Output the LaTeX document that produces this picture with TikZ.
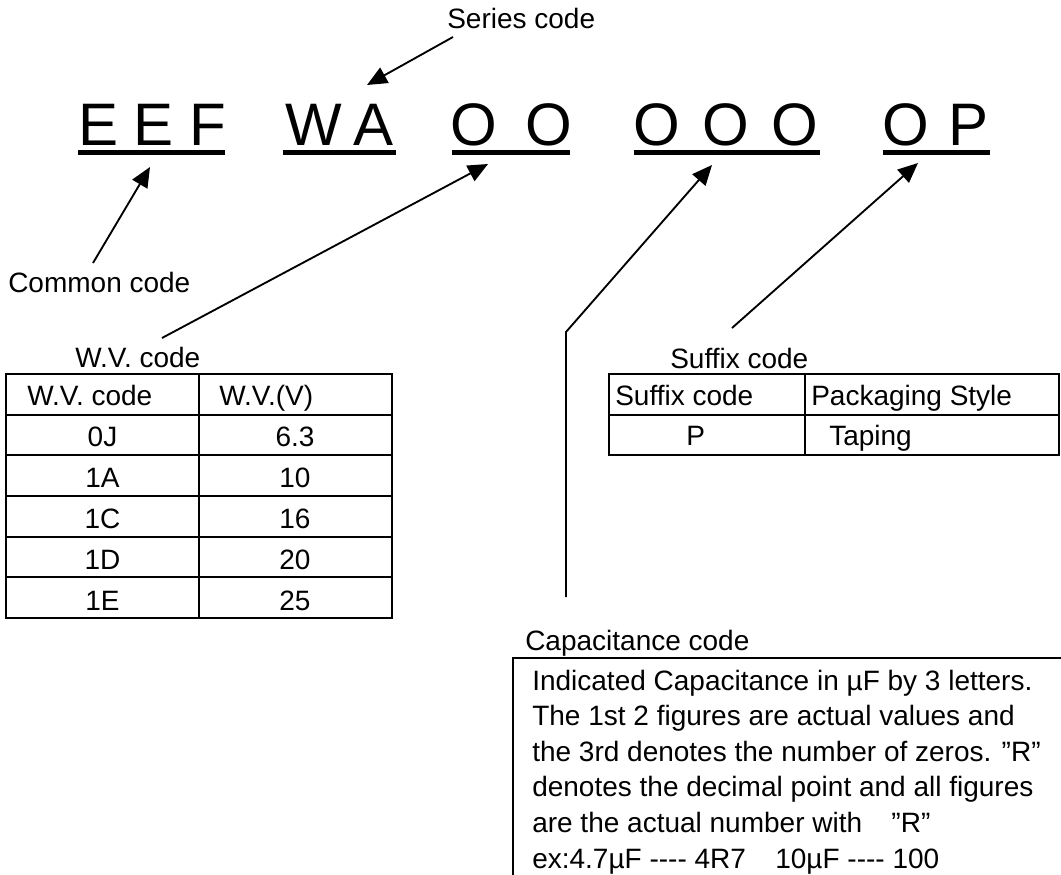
\documentclass[tikz,border=0pt]{standalone}
\usepackage{fontspec}
\setmainfont{Liberation Sans}[Ligatures=TeXOff]
\usetikzlibrary{arrows.meta}

\begin{document}
\begin{tikzpicture}
		[x=0.75pt, y=-0.75pt,
		every node/.style={inner sep=0pt, font=\fontsize{21}{25}\selectfont},
		letter/.style={anchor=base, font=\fontsize{45}{54}\selectfont},
		label/.style={anchor=base west},
		cell/.style={anchor=base},
		bar/.style={line width=3.75pt},
		frame/.style={line width=2pt},
		pointer/.style={line width=1.4pt, -{Triangle[length=15pt, width=13pt]}}]
		\useasboundingbox (0,0) rectangle (1061,875);
		
		% part number
		\foreach \ch/\x [count=\i] in {E/98.5, E/153.5, F/208, W/314, A/374, O/474, O/548.5, O/657, O/726, O/795, O/906, P/968.5}
			\node[letter] (ch\i) at (\x,145) {\ch};
		\foreach \a/\b in {78/225, 283/396, 452/570, 634/820, 883/990}
			\draw[bar] (\a,152.5) -- (\b,152.5);
		
		\coordinate (tipS) at (367,85);
		\coordinate (tipC) at (150,167);
		\coordinate (tipW) at (488,164);
		\coordinate (tipK) at (712,165);
		\coordinate (tipP) at (918,163);
		
		\node[label] (series) at (447,28) {Series code};
		\node[label] (common) at (8,292) {Common code};
		\node[label] (wv) at (75,367) {W.V. code};
		\node[label] (suffix) at (670,368) {Suffix code};
		\node[label] (cap) at (525,650) {Capacitance code};
		
		\coordinate (fromS) at (453,37);
		\coordinate (fromC) at (93,263);
		\coordinate (fromW) at (162,338);
		\coordinate (fromK) at (566,597);
		\coordinate (bendK) at (566,332);
		\coordinate (fromP) at (732,328);
		
		\draw[pointer] (fromS) -- (tipS);
		\draw[pointer] (fromC) -- (tipC);
		\draw[pointer] (fromW) -- (tipW);
		\draw[pointer] (fromK) -- (bendK) -- (tipK);
		\draw[pointer] (fromP) -- (tipP);
		
		% W.V. table
		\draw[frame] (6,374) rectangle (392,618);
		\draw[frame] (199,374) -- (199,618);
		\foreach \y in {415,455,496,537,577}
			\draw[frame] (6,\y) -- (392,\y);
		\node[label] (wvh1) at (27,405) {W.V. code};
		\node[label] (wvh2) at (219,405) {W.V.(V)};
		\foreach \c/\v/\y [count=\i] in {0J/6.3/446, 1A/10/487, 1C/16/528, 1D/20/569, 1E/25/610} {
			\node[cell] (wvc\i) at (102.5,\y) {\c};
			\node[cell] (wvv\i) at (295,\y) {\v};
		}
		
		% suffix table
		\draw[frame] (609,374) rectangle (1059,455);
		\draw[frame] (805,374) -- (805,455);
		\draw[frame] (609,415) -- (1059,415);
		\node[label] (sfh1) at (615,405) {Suffix code};
		\node[label] (sfh2) at (811,405) {Packaging Style};
		\node[label] (sfc1) at (686,445) {P};
		\node[label] (sfv1) at (829,445) {Taping};
		
		% capacitance box
		\draw[frame] (1061,658) -- (513,658) -- (513,875);
		\foreach \txt [count=\i] in {Indicated Capacitance in µF by 3 letters.,
			The 1st 2 figures are actual values and,
			the 3rd denotes the number of zeros. ”R”,
			denotes the decimal point and all figures,
			are the actual number with\hspace{22pt}”R”,
			ex:4.7µF ---- 4R7\hspace{22pt}10µF ---- 100}
			\node[label] (capl\i) at ({532},{690+35.6*(\i-1)}) {\txt};
\end{tikzpicture}
\end{document}
